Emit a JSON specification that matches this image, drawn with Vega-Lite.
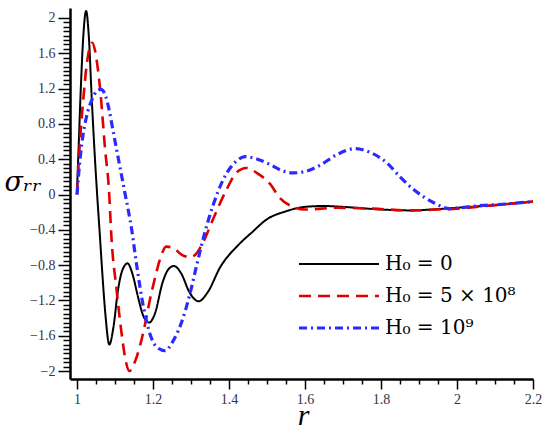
{
  "$schema": "https://vega.github.io/schema/vega-lite/v6.json",
  "description": "Radial stress sigma_rr against r for three magnetic field strengths",
  "autosize": "none",
  "width": 463,
  "height": 371,
  "padding": {"left": 70, "top": 8, "right": 17, "bottom": 54},
  "data": {
    "values": [
      {"series": "H₀ = 0", "r": 1.0, "sigma": 0.05},
      {"series": "H₀ = 0", "r": 1.004, "sigma": 0.5},
      {"series": "H₀ = 0", "r": 1.01, "sigma": 1.2},
      {"series": "H₀ = 0", "r": 1.016, "sigma": 1.75},
      {"series": "H₀ = 0", "r": 1.024, "sigma": 2.08},
      {"series": "H₀ = 0", "r": 1.031, "sigma": 1.8},
      {"series": "H₀ = 0", "r": 1.039, "sigma": 1.07},
      {"series": "H₀ = 0", "r": 1.046, "sigma": 0.5},
      {"series": "H₀ = 0", "r": 1.053, "sigma": 0.0},
      {"series": "H₀ = 0", "r": 1.06, "sigma": -0.45},
      {"series": "H₀ = 0", "r": 1.066, "sigma": -0.85},
      {"series": "H₀ = 0", "r": 1.075, "sigma": -1.37},
      {"series": "H₀ = 0", "r": 1.085, "sigma": -1.7},
      {"series": "H₀ = 0", "r": 1.096, "sigma": -1.5},
      {"series": "H₀ = 0", "r": 1.108, "sigma": -1.08},
      {"series": "H₀ = 0", "r": 1.12, "sigma": -0.85},
      {"series": "H₀ = 0", "r": 1.133, "sigma": -0.78},
      {"series": "H₀ = 0", "r": 1.146, "sigma": -0.9},
      {"series": "H₀ = 0", "r": 1.16, "sigma": -1.15},
      {"series": "H₀ = 0", "r": 1.175, "sigma": -1.38},
      {"series": "H₀ = 0", "r": 1.19, "sigma": -1.45},
      {"series": "H₀ = 0", "r": 1.205, "sigma": -1.35},
      {"series": "H₀ = 0", "r": 1.225, "sigma": -1.0},
      {"series": "H₀ = 0", "r": 1.24, "sigma": -0.85},
      {"series": "H₀ = 0", "r": 1.255, "sigma": -0.81},
      {"series": "H₀ = 0", "r": 1.275, "sigma": -0.9},
      {"series": "H₀ = 0", "r": 1.295, "sigma": -1.1},
      {"series": "H₀ = 0", "r": 1.32, "sigma": -1.21},
      {"series": "H₀ = 0", "r": 1.345, "sigma": -1.1},
      {"series": "H₀ = 0", "r": 1.376, "sigma": -0.83},
      {"series": "H₀ = 0", "r": 1.425, "sigma": -0.57},
      {"series": "H₀ = 0", "r": 1.46, "sigma": -0.43},
      {"series": "H₀ = 0", "r": 1.5, "sigma": -0.28},
      {"series": "H₀ = 0", "r": 1.55, "sigma": -0.19},
      {"series": "H₀ = 0", "r": 1.6, "sigma": -0.14},
      {"series": "H₀ = 0", "r": 1.65, "sigma": -0.13},
      {"series": "H₀ = 0", "r": 1.7, "sigma": -0.14},
      {"series": "H₀ = 0", "r": 1.8, "sigma": -0.17},
      {"series": "H₀ = 0", "r": 1.88, "sigma": -0.18},
      {"series": "H₀ = 0", "r": 1.95, "sigma": -0.165},
      {"series": "H₀ = 0", "r": 2.0, "sigma": -0.15},
      {"series": "H₀ = 0", "r": 2.1, "sigma": -0.12},
      {"series": "H₀ = 0", "r": 2.2, "sigma": -0.08},

      {"series": "H₀ = 5 × 10⁸", "r": 1.0, "sigma": 0.0},
      {"series": "H₀ = 5 × 10⁸", "r": 1.008, "sigma": 0.62},
      {"series": "H₀ = 5 × 10⁸", "r": 1.017, "sigma": 1.1},
      {"series": "H₀ = 5 × 10⁸", "r": 1.025, "sigma": 1.45},
      {"series": "H₀ = 5 × 10⁸", "r": 1.033, "sigma": 1.66},
      {"series": "H₀ = 5 × 10⁸", "r": 1.04, "sigma": 1.72},
      {"series": "H₀ = 5 × 10⁸", "r": 1.048, "sigma": 1.62},
      {"series": "H₀ = 5 × 10⁸", "r": 1.055, "sigma": 1.42},
      {"series": "H₀ = 5 × 10⁸", "r": 1.061, "sigma": 1.19},
      {"series": "H₀ = 5 × 10⁸", "r": 1.074, "sigma": 0.51},
      {"series": "H₀ = 5 × 10⁸", "r": 1.084, "sigma": 0.06},
      {"series": "H₀ = 5 × 10⁸", "r": 1.091, "sigma": -0.51},
      {"series": "H₀ = 5 × 10⁸", "r": 1.104, "sigma": -1.07},
      {"series": "H₀ = 5 × 10⁸", "r": 1.117, "sigma": -1.56},
      {"series": "H₀ = 5 × 10⁸", "r": 1.128, "sigma": -1.88},
      {"series": "H₀ = 5 × 10⁸", "r": 1.138, "sigma": -2.0},
      {"series": "H₀ = 5 × 10⁸", "r": 1.15, "sigma": -1.92},
      {"series": "H₀ = 5 × 10⁸", "r": 1.166, "sigma": -1.71},
      {"series": "H₀ = 5 × 10⁸", "r": 1.18, "sigma": -1.45},
      {"series": "H₀ = 5 × 10⁸", "r": 1.192, "sigma": -1.19},
      {"series": "H₀ = 5 × 10⁸", "r": 1.205, "sigma": -0.95},
      {"series": "H₀ = 5 × 10⁸", "r": 1.218, "sigma": -0.74},
      {"series": "H₀ = 5 × 10⁸", "r": 1.235, "sigma": -0.59},
      {"series": "H₀ = 5 × 10⁸", "r": 1.255, "sigma": -0.61},
      {"series": "H₀ = 5 × 10⁸", "r": 1.275, "sigma": -0.68},
      {"series": "H₀ = 5 × 10⁸", "r": 1.298, "sigma": -0.71},
      {"series": "H₀ = 5 × 10⁸", "r": 1.312, "sigma": -0.68},
      {"series": "H₀ = 5 × 10⁸", "r": 1.33, "sigma": -0.56},
      {"series": "H₀ = 5 × 10⁸", "r": 1.358, "sigma": -0.28},
      {"series": "H₀ = 5 × 10⁸", "r": 1.394, "sigma": 0.06},
      {"series": "H₀ = 5 × 10⁸", "r": 1.42, "sigma": 0.25},
      {"series": "H₀ = 5 × 10⁸", "r": 1.446, "sigma": 0.3},
      {"series": "H₀ = 5 × 10⁸", "r": 1.475, "sigma": 0.24},
      {"series": "H₀ = 5 × 10⁸", "r": 1.508, "sigma": 0.12},
      {"series": "H₀ = 5 × 10⁸", "r": 1.534, "sigma": -0.04},
      {"series": "H₀ = 5 × 10⁸", "r": 1.569, "sigma": -0.14},
      {"series": "H₀ = 5 × 10⁸", "r": 1.6, "sigma": -0.17},
      {"series": "H₀ = 5 × 10⁸", "r": 1.684, "sigma": -0.15},
      {"series": "H₀ = 5 × 10⁸", "r": 1.78, "sigma": -0.16},
      {"series": "H₀ = 5 × 10⁸", "r": 1.876, "sigma": -0.18},
      {"series": "H₀ = 5 × 10⁸", "r": 1.95, "sigma": -0.17},
      {"series": "H₀ = 5 × 10⁸", "r": 2.0, "sigma": -0.16},
      {"series": "H₀ = 5 × 10⁸", "r": 2.1, "sigma": -0.12},
      {"series": "H₀ = 5 × 10⁸", "r": 2.2, "sigma": -0.08},

      {"series": "H₀ = 10⁹", "r": 1.0, "sigma": 0.0},
      {"series": "H₀ = 10⁹", "r": 1.008, "sigma": 0.4},
      {"series": "H₀ = 10⁹", "r": 1.016, "sigma": 0.68},
      {"series": "H₀ = 10⁹", "r": 1.025, "sigma": 0.88},
      {"series": "H₀ = 10⁹", "r": 1.04, "sigma": 1.08},
      {"series": "H₀ = 10⁹", "r": 1.052, "sigma": 1.17},
      {"series": "H₀ = 10⁹", "r": 1.063, "sigma": 1.19},
      {"series": "H₀ = 10⁹", "r": 1.075, "sigma": 1.12},
      {"series": "H₀ = 10⁹", "r": 1.085, "sigma": 0.95},
      {"series": "H₀ = 10⁹", "r": 1.095, "sigma": 0.72},
      {"series": "H₀ = 10⁹", "r": 1.11, "sigma": 0.38},
      {"series": "H₀ = 10⁹", "r": 1.126, "sigma": 0.02},
      {"series": "H₀ = 10⁹", "r": 1.144, "sigma": -0.4},
      {"series": "H₀ = 10⁹", "r": 1.157, "sigma": -0.8},
      {"series": "H₀ = 10⁹", "r": 1.176, "sigma": -1.3},
      {"series": "H₀ = 10⁹", "r": 1.192, "sigma": -1.58},
      {"series": "H₀ = 10⁹", "r": 1.21, "sigma": -1.73},
      {"series": "H₀ = 10⁹", "r": 1.232, "sigma": -1.77},
      {"series": "H₀ = 10⁹", "r": 1.25, "sigma": -1.68},
      {"series": "H₀ = 10⁹", "r": 1.275, "sigma": -1.45},
      {"series": "H₀ = 10⁹", "r": 1.297, "sigma": -1.13},
      {"series": "H₀ = 10⁹", "r": 1.315, "sigma": -0.8},
      {"series": "H₀ = 10⁹", "r": 1.337, "sigma": -0.42},
      {"series": "H₀ = 10⁹", "r": 1.359, "sigma": -0.11},
      {"series": "H₀ = 10⁹", "r": 1.385, "sigma": 0.17},
      {"series": "H₀ = 10⁹", "r": 1.42, "sigma": 0.38},
      {"series": "H₀ = 10⁹", "r": 1.442, "sigma": 0.43},
      {"series": "H₀ = 10⁹", "r": 1.475, "sigma": 0.4},
      {"series": "H₀ = 10⁹", "r": 1.508, "sigma": 0.34},
      {"series": "H₀ = 10⁹", "r": 1.54, "sigma": 0.27},
      {"series": "H₀ = 10⁹", "r": 1.569, "sigma": 0.245},
      {"series": "H₀ = 10⁹", "r": 1.6, "sigma": 0.26},
      {"series": "H₀ = 10⁹", "r": 1.639, "sigma": 0.33},
      {"series": "H₀ = 10⁹", "r": 1.683, "sigma": 0.45},
      {"series": "H₀ = 10⁹", "r": 1.732, "sigma": 0.52},
      {"series": "H₀ = 10⁹", "r": 1.775, "sigma": 0.47},
      {"series": "H₀ = 10⁹", "r": 1.815, "sigma": 0.36},
      {"series": "H₀ = 10⁹", "r": 1.85, "sigma": 0.2},
      {"series": "H₀ = 10⁹", "r": 1.885, "sigma": 0.06},
      {"series": "H₀ = 10⁹", "r": 1.938, "sigma": -0.09},
      {"series": "H₀ = 10⁹", "r": 1.98, "sigma": -0.16},
      {"series": "H₀ = 10⁹", "r": 2.05, "sigma": -0.13},
      {"series": "H₀ = 10⁹", "r": 2.12, "sigma": -0.11},
      {"series": "H₀ = 10⁹", "r": 2.2, "sigma": -0.08}
    ]
  },
  "mark": {"type": "line", "interpolate": "monotone", "clip": true},
  "encoding": {
    "x": {
      "field": "r",
      "type": "quantitative",
      "scale": {"domain": [0.9816, 2.2], "nice": false, "zero": false},
      "axis": {
        "title": "r",
        "titleFont": "Liberation Serif, serif",
        "titleFontStyle": "italic",
        "titleFontWeight": "normal",
        "titleFontSize": 30,
        "titleX": 233,
        "titleY": 45,
        "titleBaseline": "alphabetic",
        "values": [1, 1.05, 1.1, 1.15, 1.2, 1.25, 1.3, 1.35, 1.4, 1.45, 1.5, 1.55, 1.6, 1.65, 1.7, 1.75, 1.8, 1.85, 1.9, 1.95, 2, 2.05, 2.1, 2.15, 2.2],
        "format": ".1~f",
        "labelExpr": "abs(datum.value * 5 - round(datum.value * 5)) < 0.001 ? datum.label : ''",
        "tickSize": {"condition": {"test": "abs(datum.value * 5 - round(datum.value * 5)) < 0.001", "value": 10}, "value": 5},
        "tickWidth": 1.5,
        "tickColor": "black",
        "domainColor": "black",
        "domainWidth": 2.5,
        "labelFont": "Liberation Serif, serif",
        "labelFontSize": 14,
        "labelColor": "#33334a",
        "labelPadding": 3,
        "labelFlush": false,
        "labelOverlap": false,
        "grid": false
      }
    },
    "y": {
      "field": "sigma",
      "type": "quantitative",
      "scale": {"domain": [-2.09, 2.113], "nice": false, "zero": false},
      "axis": {
        "title": "σᵣᵣ",
        "titleFont": "DejaVu Serif, serif",
        "titleFontStyle": "italic",
        "titleFontWeight": "normal",
        "titleFontSize": 27,
        "titleAngle": 0,
        "titleAlign": "left",
        "titleBaseline": "middle",
        "titleX": -66,
        "titleY": 174,
        "values": [-2, -1.95, -1.9, -1.85, -1.8, -1.75, -1.7, -1.65, -1.6, -1.55, -1.5, -1.45, -1.4, -1.35, -1.3, -1.25, -1.2, -1.15, -1.1, -1.05, -1, -0.95, -0.9, -0.85, -0.8, -0.75, -0.7, -0.65, -0.6, -0.55, -0.5, -0.45, -0.4, -0.35, -0.3, -0.25, -0.2, -0.15, -0.1, -0.05, 0, 0.05, 0.1, 0.15, 0.2, 0.25, 0.3, 0.35, 0.4, 0.45, 0.5, 0.55, 0.6, 0.65, 0.7, 0.75, 0.8, 0.85, 0.9, 0.95, 1, 1.05, 1.1, 1.15, 1.2, 1.25, 1.3, 1.35, 1.4, 1.45, 1.5, 1.55, 1.6, 1.65, 1.7, 1.75, 1.8, 1.85, 1.9, 1.95, 2],
        "format": ".1~f",
        "labelExpr": "abs(datum.value * 2.5 - round(datum.value * 2.5)) < 0.001 ? datum.label : ''",
        "tickSize": {"condition": {"test": "abs(datum.value * 2.5 - round(datum.value * 2.5)) < 0.001", "value": 12}, "value": 7},
        "tickWidth": 1.5,
        "tickColor": "black",
        "domainColor": "black",
        "domainWidth": 2.5,
        "labelFont": "Liberation Serif, serif",
        "labelFontSize": 14,
        "labelColor": "#33334a",
        "labelPadding": 3,
        "labelOverlap": false,
        "grid": false
      }
    },
    "color": {
      "field": "series",
      "type": "nominal",
      "scale": {
        "domain": ["H₀ = 0", "H₀ = 5 × 10⁸", "H₀ = 10⁹"],
        "range": ["#000000", "#e00000", "#2a2aff"]
      },
      "legend": {
        "title": null,
        "orient": "none",
        "legendX": 227,
        "legendY": 246,
        "symbolType": "stroke",
        "symbolSize": 6400,
        "symbolStrokeWidth": 3,
        "clipHeight": 20,
        "labelFont": "DejaVu Serif, serif",
        "labelFontSize": 20,
        "labelColor": "black",
        "labelOffset": 4,
        "rowPadding": 12,
        "labelLimit": 300
      }
    },
    "strokeDash": {
      "field": "series",
      "type": "nominal",
      "scale": {
        "domain": ["H₀ = 0", "H₀ = 5 × 10⁸", "H₀ = 10⁹"],
        "range": [[1, 0], [12, 7], [8, 4, 2, 4]]
      },
      "legend": null
    },
    "strokeWidth": {
      "field": "series",
      "type": "nominal",
      "scale": {
        "domain": ["H₀ = 0", "H₀ = 5 × 10⁸", "H₀ = 10⁹"],
        "range": [2, 3.2, 3]
      },
      "legend": null
    }
  },
  "config": {
    "view": {"stroke": null},
    "background": "white"
  }
}
